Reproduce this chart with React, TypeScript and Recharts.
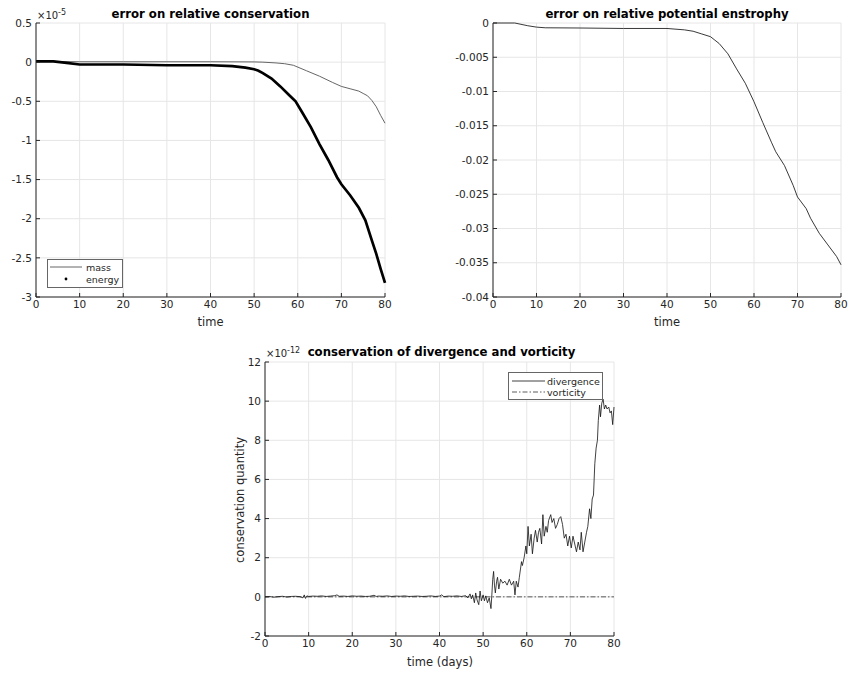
import { CartesianGrid, Line, LineChart, XAxis, YAxis } from "recharts";

const FONT = "'DejaVu Sans', sans-serif";
const INK = "#262626";
const GRID = "#e6e6e6";

// time axis ticks shared by all three panels
const timeTicks = [0, 10, 20, 30, 40, 50, 60, 70, 80];

// panel 1: relative conservation error (x 1e-5)
const massTime = [0, 10, 20, 30, 40, 50, 52, 55, 57, 59, 62, 65, 68, 70, 72, 74, 75, 76, 77, 78, 79, 80];
const massErr = [0.01, 0.005, 0.005, 0.005, 0.005, 0.003, 0, -0.01, -0.02, -0.04, -0.11, -0.18, -0.26, -0.31, -0.34, -0.37, -0.4, -0.43, -0.49, -0.57, -0.68, -0.78];
const energyTime = [0, 4, 7, 10, 15, 20, 30, 40, 45, 48, 50, 51, 52, 54, 56, 58, 59.5, 61, 63, 65, 67, 69, 70, 72, 74, 75.5, 77, 78, 79, 80];
const energyErr = [0.01, 0.01, -0.01, -0.03, -0.03, -0.03, -0.04, -0.04, -0.05, -0.07, -0.09, -0.11, -0.14, -0.21, -0.31, -0.42, -0.5, -0.64, -0.83, -1.05, -1.25, -1.47, -1.56, -1.7, -1.86, -2.02, -2.28, -2.45, -2.64, -2.82];
const consTicks = [-3, -2.5, -2, -1.5, -1, -0.5, 0, 0.5];

// panel 2: relative potential enstrophy error
const enstTime = [0, 5, 8, 10, 12, 20, 30, 40, 44, 46, 48, 50, 51, 52, 54, 56, 58, 60, 62, 64, 65, 67, 69, 70, 72, 73, 75, 77, 79, 80];
const enstErr = [0, 0, -0.0004, -0.0006, -0.0007, -0.00073, -0.0008, -0.0008, -0.001, -0.0012, -0.0016, -0.002, -0.0025, -0.003, -0.0045, -0.0067, -0.0088, -0.0115, -0.0145, -0.0174, -0.0188, -0.0208, -0.0237, -0.0254, -0.0271, -0.0285, -0.0307, -0.0324, -0.0341, -0.0353];
const enstTicks = [-0.04, -0.035, -0.03, -0.025, -0.02, -0.015, -0.01, -0.005, 0];

// panel 3: divergence / vorticity conservation (x 1e-12)
const divTime = [
  0, 1, 2, 3, 4, 5, 6, 7, 8, 8.7, 9, 9.3, 9.6, 10, 11, 12, 13, 14, 15, 16, 16.5, 17, 18, 19, 20,
  21, 22, 23, 24, 25, 25.5, 26, 27, 28, 29, 30, 31, 32, 33, 34, 35, 36, 37, 38, 39, 40, 40.5, 41,
  42, 43, 44, 45, 46, 46.5, 47, 47.3, 47.6, 48, 48.3, 48.6, 49, 49.3, 49.6, 50, 50.3, 50.6, 51,
  51.4, 51.8, 52, 52.2, 52.4, 52.6, 52.8, 53.1, 53.3, 53.6, 54, 54.5, 55, 55.5, 56, 56.5, 57, 57.3,
  57.6, 58, 58.3, 58.8, 59, 59.4, 59.8, 60, 60.3, 60.6, 61, 61.3, 61.7, 62, 62.4, 62.7, 63, 63.4,
  63.7, 64, 64.4, 64.7, 65, 65.5, 65.8, 66.2, 66.6, 67, 67.4, 67.8, 68.2, 68.6, 69, 69.4, 69.8,
  70.2, 70.6, 71, 71.4, 71.8, 72.2, 72.5, 72.9, 73.3, 73.7, 74, 74.4, 74.7, 75, 75.3, 75.6, 75.9,
  76.2, 76.4, 76.7, 76.9, 77.2, 77.5, 77.8, 78.1, 78.4, 78.8, 79.1, 79.4, 79.7, 80,
];
const divValue = [
  0, 0.02, -0.02, 0.01, 0.03, -0.01, 0.02, 0.03, 0.01, -0.05, 0.1, -0.08, 0.05, 0.02, 0.04, 0.03, 0.05, 0.02, 0.04, 0.06, 0.1, 0.03, 0.04, 0.02, 0.05,
  0.03, 0.04, 0.02, 0.03, 0.08, 0.02, 0.04, 0.03, 0.05, 0.02, 0.04, 0.03, 0.05, 0.02, 0.03, 0.04, 0.02, 0.03, 0.05, 0.02, 0.04, 0.1, 0.01,
  0.04, 0.03, 0.05, 0.02, 0.06, -0.05, 0.15, -0.1, 0.1, -0.3, 0.2, -0.15, -0.4, 0.3, -0.2, 0.1, -0.2, 0.05, -0.3,
  -0.05, -0.6, 0.1, 0.9, 1.3, 0.6, 0.2, 0.8, 1.0, 0.4, 0.9, 0.7, 0.8, 0.6, 0.9, 0.6, 0.8, 0.1,
  0.8, 0.5, 1.0, 1.8, 1.6, 2.0, 2.6, 2.2, 3.6, 2.6, 3.2, 2.2, 3.0, 3.4, 2.8, 3.3, 3.5, 2.7,
  4.2, 3.1, 3.6, 3.3, 3.9, 4.2, 3.8, 4.0, 3.5, 3.7, 4.0, 4.1, 3.7, 3.0, 3.2, 2.6, 3.1,
  2.5, 3.1, 2.7, 2.3, 2.8, 2.4, 3.3, 2.3, 2.8, 3.3, 3.6, 4.5, 4.0, 5.0, 5.2, 6.8, 7.6,
  8.0, 9.0, 9.8, 9.2, 9.9, 10.1, 9.6, 9.8, 9.6, 9.7, 9.4, 9.5, 8.8, 9.7,
];
const vortTime = [0, 80];
const vortValue = [0, 0];
const divTicks = [-2, 0, 2, 4, 6, 8, 10, 12];

const pairs = (ts: number[], vs: number[]) => ts.map((t, i) => ({ t, v: vs[i] }));

const tickStyle = { fill: INK, fontSize: 10.5, fontFamily: FONT };
const axisLine = { stroke: INK, strokeWidth: 1 };

const abs = (left: number, top: number, extra: React.CSSProperties = {}): React.CSSProperties => ({
  position: "absolute",
  left,
  top,
  ...extra,
});

function Title({ x, y, text }: { x: number; y: number; text: string }) {
  return (
    <div
      style={abs(x - 200, y - 8, {
        width: 400,
        textAlign: "center",
        fontWeight: "bold",
        fontSize: 11.7,
        lineHeight: "16px",
        color: "#000",
        whiteSpace: "nowrap",
      })}
    >
      {text}
    </div>
  );
}

function AxisLabel({ x, y, text }: { x: number; y: number; text: string }) {
  return (
    <div style={abs(x - 100, y - 8, { width: 200, textAlign: "center", fontSize: 11.5, lineHeight: "16px", color: INK })}>
      {text}
    </div>
  );
}

function Exponent({ x, y, exp }: { x: number; y: number; exp: string }) {
  return (
    <div style={abs(x, y, { fontSize: 10, lineHeight: "12px", color: INK, whiteSpace: "nowrap" })}>
      ×10<sup style={{ fontSize: 8 }}>{exp}</sup>
    </div>
  );
}

export default function App() {
  return (
    <div style={{ position: "absolute", left: 0, top: 0, width: 851, height: 673, background: "#fff", fontFamily: FONT }}>
      {/* panel 1 */}
      <div style={abs(0, 0)}>
        <LineChart width={425} height={330} margin={{ top: 23, right: 40, bottom: 13, left: 0 }}>
          <CartesianGrid stroke={GRID} />
          <XAxis dataKey="t" type="number" domain={[0, 80]} ticks={timeTicks} tick={tickStyle} axisLine={axisLine} tickLine={axisLine} tickSize={-4} tickMargin={8} height={20} allowDuplicatedCategory={false} />
          <YAxis type="number" domain={[-3, 0.5]} ticks={consTicks} tick={tickStyle} axisLine={axisLine} tickLine={axisLine} tickSize={-4} tickMargin={8} width={36} />
          <XAxis xAxisId="top" orientation="top" type="number" domain={[0, 80]} ticks={timeTicks} tick={false} axisLine={axisLine} tickLine={axisLine} tickSize={-4} height={0} />
          <YAxis yAxisId="right" orientation="right" type="number" domain={[-3, 0.5]} ticks={consTicks} tick={false} axisLine={axisLine} tickLine={axisLine} tickSize={-4} width={0} />
          <Line data={pairs(massTime, massErr)} dataKey="v" type="linear" stroke="#555" strokeWidth={0.9} dot={false} isAnimationActive={false} />
          <Line data={pairs(energyTime, energyErr)} dataKey="v" type="linear" stroke="#000" strokeWidth={2.7} dot={false} isAnimationActive={false} />
        </LineChart>
      </div>
      <Title x={210.5} y={14} text="error on relative conservation" />
      <Exponent x={37} y={7} exp="-5" />
      <AxisLabel x={210.5} y={322} text="time" />
      <svg style={abs(47, 259)} width={76} height={29}>
        <rect x={0.5} y={0.5} width={75} height={28} fill="#fff" stroke="#666" />
        <line x1={3} x2={35} y1={8} y2={8} stroke="#555" strokeWidth={0.9} />
        <text x={39} y={11.5} fontSize={9.5} fontFamily={FONT} fill={INK}>mass</text>
        <circle cx={19} cy={20} r={1.4} fill="#000" />
        <text x={39} y={23.5} fontSize={9.5} fontFamily={FONT} fill={INK}>energy</text>
      </svg>

      {/* panel 2 */}
      <div style={abs(425, 0)}>
        <LineChart width={426} height={330} margin={{ top: 23, right: 10, bottom: 13, left: 0 }}>
          <CartesianGrid stroke={GRID} />
          <XAxis dataKey="t" type="number" domain={[0, 80]} ticks={timeTicks} tick={tickStyle} axisLine={axisLine} tickLine={axisLine} tickSize={-4} tickMargin={8} height={20} allowDuplicatedCategory={false} />
          <YAxis type="number" domain={[-0.04, 0]} ticks={enstTicks} tick={tickStyle} axisLine={axisLine} tickLine={axisLine} tickSize={-4} tickMargin={8} width={68} />
          <XAxis xAxisId="top" orientation="top" type="number" domain={[0, 80]} ticks={timeTicks} tick={false} axisLine={axisLine} tickLine={axisLine} tickSize={-4} height={0} />
          <YAxis yAxisId="right" orientation="right" type="number" domain={[-0.04, 0]} ticks={enstTicks} tick={false} axisLine={axisLine} tickLine={axisLine} tickSize={-4} width={0} />
          <Line data={pairs(enstTime, enstErr)} dataKey="v" type="linear" stroke="#222" strokeWidth={0.9} dot={false} isAnimationActive={false} />
        </LineChart>
      </div>
      <Title x={667} y={14} text="error on relative potential enstrophy" />
      <AxisLabel x={667} y={322} text="time" />

      {/* panel 3 */}
      <div style={abs(220, 330)}>
        <LineChart width={410} height={343} margin={{ top: 32, right: 16, bottom: 17, left: 0 }}>
          <CartesianGrid stroke={GRID} />
          <XAxis dataKey="t" type="number" domain={[0, 80]} ticks={timeTicks} tick={tickStyle} axisLine={axisLine} tickLine={axisLine} tickSize={-4} tickMargin={8} height={20} allowDuplicatedCategory={false} />
          <YAxis type="number" domain={[-2, 12]} ticks={divTicks} tick={tickStyle} axisLine={axisLine} tickLine={axisLine} tickSize={-4} tickMargin={8} width={45} />
          <XAxis xAxisId="top" orientation="top" type="number" domain={[0, 80]} ticks={timeTicks} tick={false} axisLine={axisLine} tickLine={axisLine} tickSize={-4} height={0} />
          <YAxis yAxisId="right" orientation="right" type="number" domain={[-2, 12]} ticks={divTicks} tick={false} axisLine={axisLine} tickLine={axisLine} tickSize={-4} width={0} />
          <Line data={pairs(vortTime, vortValue)} dataKey="v" type="linear" stroke="#333" strokeWidth={0.8} strokeDasharray="5 2 1.5 2" dot={false} isAnimationActive={false} />
          <Line data={pairs(divTime, divValue)} dataKey="v" type="linear" stroke="#111" strokeWidth={0.8} dot={false} isAnimationActive={false} />
        </LineChart>
      </div>
      <Title x={441.5} y={352} text="conservation of divergence and vorticity" />
      <Exponent x={266} y={345} exp="-12" />
      <AxisLabel x={440} y={662} text="time (days)" />
      <div
        style={abs(140, 492, {
          width: 200,
          textAlign: "center",
          fontSize: 11.5,
          lineHeight: "16px",
          color: INK,
          transform: "rotate(-90deg)",
        })}
      >
        conservation quantity
      </div>
      <svg style={abs(508, 372)} width={95} height={28}>
        <rect x={0.5} y={0.5} width={94} height={27} fill="#fff" stroke="#666" />
        <line x1={4} x2={37} y1={9} y2={9} stroke="#111" strokeWidth={0.8} />
        <text x={39} y={12.5} fontSize={9.5} fontFamily={FONT} fill={INK}>divergence</text>
        <line x1={4} x2={37} y1={20} y2={20} stroke="#333" strokeWidth={0.8} strokeDasharray="5 2 1.5 2" />
        <text x={39} y={23.5} fontSize={9.5} fontFamily={FONT} fill={INK}>vorticity</text>
      </svg>
    </div>
  );
}
